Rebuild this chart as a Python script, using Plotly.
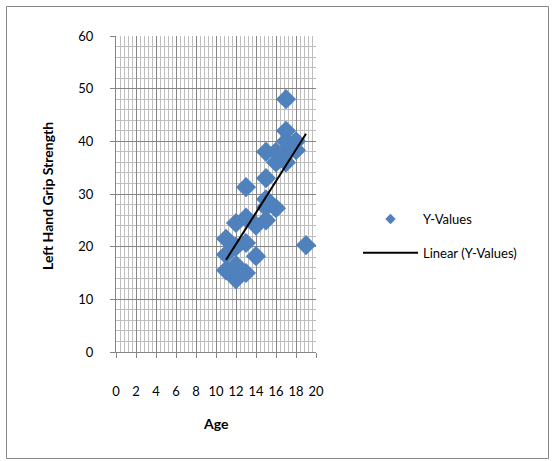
import numpy as np
import plotly.graph_objects as go

age = [11, 11, 11, 12, 12, 12, 12, 13, 13, 13, 13, 14, 14, 15, 15, 15, 15, 15,
       16, 16, 16, 17, 17, 17, 17, 17, 18, 18, 19]
grip = [15.5, 18.5, 21.5, 13.8, 16.5, 20, 24.5, 15, 20.7, 25.5, 31.3, 18.2, 24, 25, 27.5, 29, 33, 38,
        27.3, 36, 38, 36, 38, 40, 42, 48, 38.3, 40, 20.3]

x_ticks = list(range(0, 21, 2))
y_ticks = list(range(0, 61, 10))

slope, intercept = np.polyfit(age, grip, 1)
tx = [min(age), max(age)]
ty = [slope * v + intercept for v in tx]

font = "Lato, Open Sans, sans-serif"
L, R, T, B = 116, 239, 36, 109
pw, ph = 555 - L - R, 461 - T - B
blue = "#4F81BD"

fig = go.Figure()
fig.add_trace(go.Scatter(x=age, y=grip, mode="markers", name="Y-Values",
                         marker=dict(symbol="diamond", size=15.5, color=blue),
                         showlegend=False))
fig.add_trace(go.Scatter(x=[None], y=[None], mode="markers", name="Y-Values",
                         marker=dict(symbol="diamond", size=8, color=blue),
                         legendgroup="a"))
fig.add_trace(go.Scatter(x=tx, y=ty, mode="lines", name="Linear (Y-Values)",
                         line=dict(color="black", width=2), legendgroup="b"))

fig.update_layout(
    width=555, height=461,
    margin=dict(l=L, r=R, t=T, b=B, autoexpand=False),
    paper_bgcolor="white", plot_bgcolor="white",
    font=dict(family=font, size=13, color="black"),
    showlegend=True,
    legend=dict(x=(358 - L) / pw, y=(352 - 204) / ph, xanchor="left", yanchor="top",
                tracegroupgap=14, itemwidth=55, font=dict(size=13, family=font),
                bgcolor="rgba(0,0,0,0)"),
    xaxis=dict(range=[0, 20], tickvals=x_ticks, ticks="outside", ticklen=5,
               tickcolor="#868686", showline=True, linecolor="#868686", linewidth=1,
               showgrid=True, gridcolor="#858585", gridwidth=1, zeroline=False,
               ticklabelstandoff=22,
               minor=dict(dtick=0.4, showgrid=True, gridcolor="#BEBEBE", gridwidth=1)),
    yaxis=dict(range=[0, 60], tickvals=y_ticks, ticks="outside", ticklen=5,
               tickcolor="#868686", showline=True, linecolor="#868686", linewidth=1,
               showgrid=True, gridcolor="#858585", gridwidth=1, zeroline=False,
               ticklabelstandoff=14,
               minor=dict(dtick=2, showgrid=True, gridcolor="#BEBEBE", gridwidth=1)),
    annotations=[
        dict(text="<b>Age</b>", xref="paper", yref="paper", x=0.5, y=(352 - 424) / ph,
             yanchor="middle", xanchor="center",
             showarrow=False, font=dict(size=14, family=font)),
        dict(text="<b>Left Hand Grip Strength</b>", xref="paper", yref="paper",
             x=(47 - L) / pw, y=(352 - 196) / ph, textangle=-90,
             xanchor="center", yanchor="middle",
             showarrow=False, font=dict(size=14, family=font)),
    ],
    shapes=[dict(type="rect", xref="paper", yref="paper",
                 x0=(6.5 - L) / pw, x1=(548.5 - L) / pw,
                 y0=(352 - 458.5) / ph, y1=(352 - 6.5) / ph,
                 line=dict(color="#868686", width=1), layer="below")],
)
fig.write_html("out.html")
